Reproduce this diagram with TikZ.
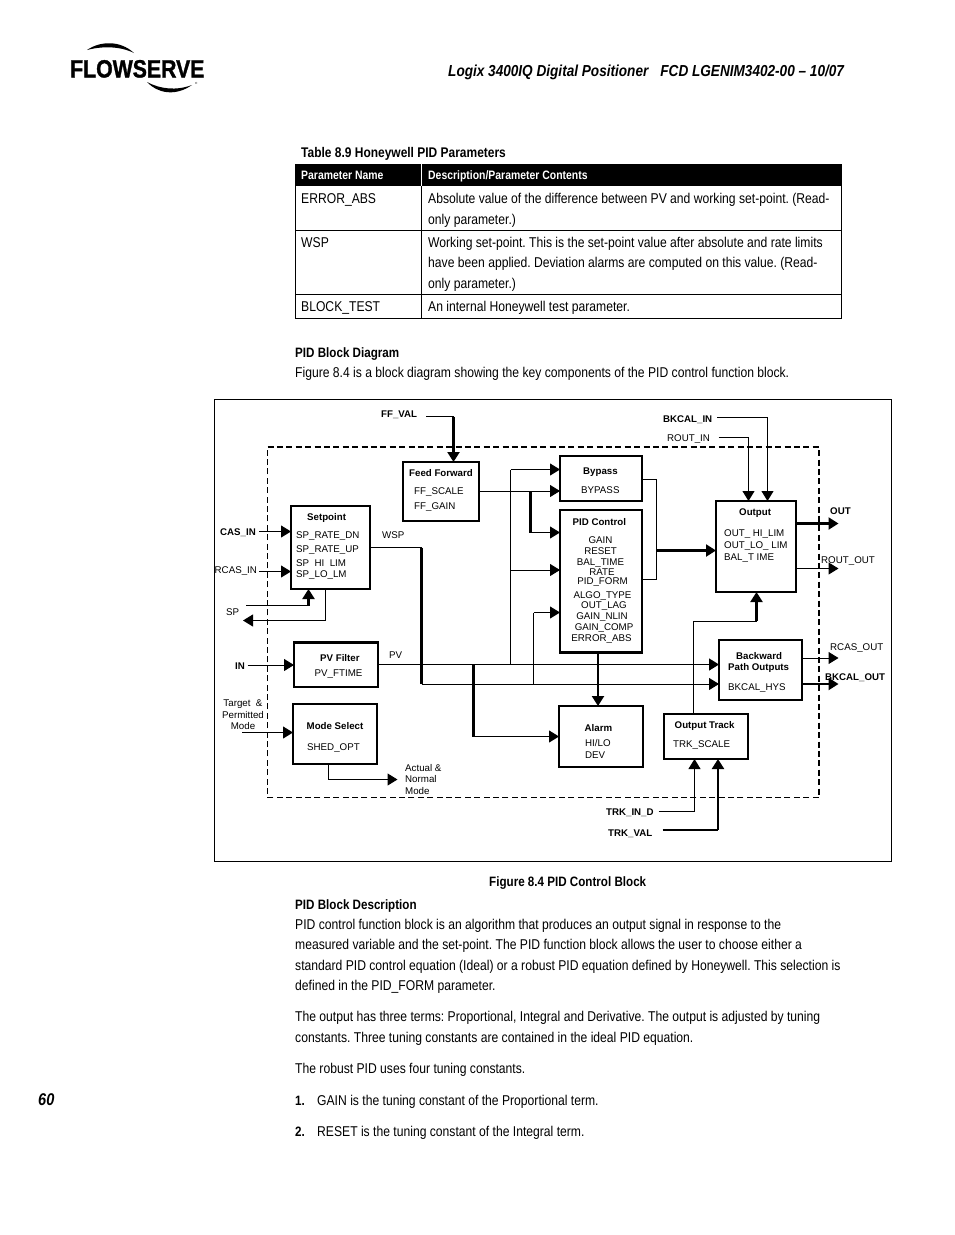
\documentclass[tikz,border=0pt]{standalone}
\usepackage{fontspec}
\setmainfont{Liberation Sans}
\newfontfamily\cond[FakeStretch=0.855]{Liberation Sans}
\newfontfamily\logof[FakeStretch=0.85,FakeBold=1.2]{Liberation Sans}
\usetikzlibrary{arrows.meta}
\frenchspacing
\tikzset{
  x=1pt,y=-1pt,
  box/.style={draw,line width=2.2pt,inner sep=0,outer sep=0},
  wire/.style={line width=1pt},
  wirek/.style={line width=2.2pt},
  arr/.style={-{Triangle[length=10pt,width=12pt]},line width=1pt},
  arrk/.style={-{Triangle[length=10pt,width=12pt]},line width=2.2pt},
  lab/.style={anchor=base west,inner sep=0,font=\fontsize{9.75}{10}\selectfont},
  labb/.style={anchor=base west,inner sep=0,font=\fontsize{9.7}{10}\selectfont\bfseries},
  labc/.style={anchor=base,inner sep=0,font=\fontsize{9.75}{10}\selectfont},
  body/.style={anchor=base west,inner sep=0,font=\cond\fontsize{14.2}{15}\selectfont},
  bodyb/.style={anchor=base west,inner sep=0,font=\cond\fontsize{13.6}{15}\selectfont\bfseries},
  head/.style={anchor=base west,inner sep=0,text=white,font=\cond\fontsize{12.2}{15}\selectfont\bfseries},
}
\newcommand\bx[5]{%
  \pgfmathsetmacro\bxw{#4-#2}\pgfmathsetmacro\bxh{#5-#3}%
  \pgfmathsetmacro\bxx{(#4+#2)/2}\pgfmathsetmacro\bxy{(#5+#3)/2}%
  \node[box,minimum width=\bxw pt,minimum height=\bxh pt] (#1) at (\bxx,\bxy) {};}
\begin{document}
\begin{tikzpicture}
\useasboundingbox (0,0) rectangle (954,1235);
\fill[white] (0,0) rectangle (954,1235);
% logo
\node[anchor=base west,inner sep=0,font=\logof\fontsize{25}{25}\selectfont\bfseries] (logo) at (70,77.5) {FLOWSERVE};
\fill (87,50) .. controls (100,41) and (120,40) .. (134,53) .. controls (120,46) and (102,46) .. (87,50) -- cycle;
\fill (147,82) .. controls (157,93) and (175,97) .. (192,85) .. controls (176,91) and (160,89) .. (147,82) -- cycle;
\node[anchor=base west,inner sep=0,font=\fontsize{3}{3}\selectfont] (reg) at (195,84) {®};
% header
\node[anchor=base west,inner sep=0,font=\cond\fontsize{15.9}{16}\selectfont\bfseries\itshape] (title) at (448,76) {Logix 3400IQ Digital Positioner\hspace{12pt}FCD LGENIM3402-00 – 10/07};
% table
\node[bodyb,font=\cond\fontsize{14}{15}\selectfont\bfseries] (tcap) at (301,157) {Table 8.9 Honeywell PID Parameters};
\fill (295,164) rectangle (842,186);
\draw[line width=0.8pt] (295.5,186) -- (295.5,318.5) -- (841.5,318.5) -- (841.5,186);
\draw[line width=0.8pt] (421.5,186) -- (421.5,318.5);
\draw[line width=0.8pt] (295.5,230) -- (841.5,230) (295.5,294.5) -- (841.5,294.5);
\draw[white,line width=0.8pt] (421.5,164) -- (421.5,186);
\node[head] (h1) at (301,179) {Parameter Name};
\node[head] (h2) at (428,179) {Description/Parameter Contents};
\node[body] (r1a) at (301,203) {ERROR\_ABS};
\node[body] (r1b) at (428,203) {Absolute value of the difference between PV and working set-point. (Read-};
\node[body] (r1c) at (428,224) {only parameter.)};
\node[body] (r2a) at (301,247) {WSP};
\node[body] (r2b) at (428,247) {Working set-point. This is the set-point value after absolute and rate limits};
\node[body] (r2c) at (428,267) {have been applied. Deviation alarms are computed on this value. (Read-};
\node[body] (r2d) at (428,288) {only parameter.)};
\node[body] (r3a) at (301,311) {BLOCK\_TEST};
\node[body] (r3b) at (428,311) {An internal Honeywell test parameter.};
% paragraphs
\node[bodyb] (p0) at (295,357) {PID Block Diagram};
\node[body] (p1) at (295,377) {Figure 8.4 is a block diagram showing the key components of the PID control function block.};
\node[bodyb] (fc) at (489,886) {Figure 8.4 PID Control Block};
\node[bodyb] (p2) at (295,909) {PID Block Description};
\node[body] (p3) at (295,929) {PID control function block is an algorithm that produces an output signal in response to the};
\node[body] (p4) at (295,949) {measured variable and the set-point. The PID function block allows the user to choose either a};
\node[body] (p5) at (295,970) {standard PID control equation (Ideal) or a robust PID equation defined by Honeywell. This selection is};
\node[body] (p6) at (295,990) {defined in the PID\_FORM parameter.};
\node[body] (p7) at (295,1021) {The output has three terms: Proportional, Integral and Derivative. The output is adjusted by tuning};
\node[body] (p8) at (295,1042) {constants. Three tuning constants are contained in the ideal PID equation.};
\node[body] (p9) at (295,1073) {The robust PID uses four tuning constants.};
\node[bodyb] (n1) at (295,1105) {1.};
\node[body] (n1t) at (317,1105) {GAIN is the tuning constant of the Proportional term.};
\node[bodyb] (n2) at (295,1136) {2.};
\node[body] (n2t) at (317,1136) {RESET is the tuning constant of the Integral term.};
\node[anchor=base west,inner sep=0,font=\cond\fontsize{17}{17}\selectfont\bfseries\itshape] (pg) at (38,1105) {60};
% frames
\draw[line width=1pt] (214.5,399.5) rectangle (891.5,861.5);
\draw[line width=1.5pt,dash pattern=on 6pt off 3.4pt] (267.5,447) -- (819,447) -- (819,797.5) -- (267.5,797.5) -- cycle;
% boxes
\bx{ff}{403}{462}{479}{521}
\bx{sp}{291}{506}{370}{589}
\bx{pvf}{294}{642.5}{378}{687}
\bx{mode}{293}{704}{377}{764}
\bx{byp}{560}{456}{642}{501}
\bx{pid}{560}{510}{642}{652.5}
\bx{outb}{716}{501}{796}{592}
\bx{back}{719}{640}{802}{700}
\bx{alarm}{559}{706}{643}{767}
\bx{trk}{664}{714}{748}{759}
% free ends and junctions
\coordinate (cffval) at (426,416.5);
\coordinate (cffb) at (453.5,416.5);
\coordinate (ccas) at (259,531.5);
\coordinate (crcas) at (259,571.5);
\coordinate (cspi) at (246,605.5);
\coordinate (cspb) at (308.5,605.5);
\coordinate (cspo) at (325,620.5);
\coordinate (cspe) at (243,620.5);
\coordinate (cwsp) at (370,547.5);
\coordinate (cwspb) at (421.5,547.5);
\coordinate (cwspc) at (421.5,684);
\coordinate (cpv) at (473.5,664.5);
\coordinate (cpvb) at (473.5,736.5);
\coordinate (cj1) at (510.5,664.5);
\coordinate (cj1t) at (510.5,469.5);
\coordinate (cj1m) at (510.5,570);
\coordinate (cffo) at (530.5,491);
\coordinate (cffd) at (530.5,532.5);
\coordinate (cw1) at (533.5,684);
\coordinate (cw1t) at (533.5,612.5);
\coordinate (cbo) at (656.5,479.5);
\coordinate (cpo) at (656.5,579);
\coordinate (cmerge) at (656.5,550.5);
\coordinate (crin) at (718.5,437.5);
\coordinate (crinb) at (748.5,437.5);
\coordinate (cbin) at (717,417);
\coordinate (cbinb) at (767.5,417);
\coordinate (coute) at (838.5,523.5);
\coordinate (crout) at (838.5,568.5);
\coordinate (crcaso) at (838.5,658);
\coordinate (cbko) at (838.5,684);
\coordinate (ct1) at (693.5,621);
\coordinate (ct2) at (756.5,621);
\coordinate (cpa) at (598,652.5);
\coordinate (ctid) at (658.5,811.5);
\coordinate (ctidb) at (694.5,811.5);
\coordinate (ctv) at (662.5,830);
\coordinate (ctvb) at (718,830);
\coordinate (cmo) at (328.5,779.5);
\coordinate (cmoe) at (397.5,779.5);
\coordinate (ctgt) at (242,732.5);
\coordinate (cin) at (247.5,665);
% connectors
\draw[wire] (cffval) -- (cffb);
\draw[arrk] (cffb) -- (cffb |- ff.north);
\draw[arr] (ccas) -- (ccas -| sp.west);
\draw[arr] (crcas) -- (crcas -| sp.west);
\draw[line width=1.3pt] (cspi) -- (cspb);
\draw[arrk] (cspb) -- (cspb |- sp.south);
\draw[arr] (cspo |- sp.south) -- (cspo) -- (cspe);
\draw[wire] (cwsp) -- (cwspb);
\draw[wirek] (cwspb) -- (cwspc);
\draw[arr] (cwspc) -- (cwspc -| back.west);
\draw[arr,line width=1.4pt] (cj1 -| pvf.east) -- (cj1 -| back.west);
\draw[wirek] (cpv) -- (cpvb);
\draw[arr] (cpvb) -- (cpvb -| alarm.west);
\draw[wire] (cj1) -- (cj1t);
\draw[arr] (cj1t) -- (cj1t -| byp.west);
\draw[arr] (cj1m) -- (cj1m -| pid.west);
\draw[arr] (cffo -| ff.east) -- (cffo -| byp.west);
\draw[wirek] (cffo) -- (cffd);
\draw[arr] (cffd) -- (cffd -| pid.west);
\draw[wire] (cw1) -- (cw1t);
\draw[arr] (cw1t) -- (cw1t -| pid.west);
\draw[wire] (cbo -| byp.east) -- (cbo) -- (cpo) -- (cpo -| pid.east);
\draw[arrk] (cmerge) -- (cmerge -| outb.west);
\draw[wire] (crin) -- (crinb);
\draw[arr] (crinb) -- (crinb |- outb.north);
\draw[wire] (cbin) -- (cbinb);
\draw[arr] (cbinb) -- (cbinb |- outb.north);
\draw[arrk] (coute -| outb.east) -- (coute);
\draw[arr] (crout -| outb.east) -- (crout);
\draw[arr] (crcaso -| back.east) -- (crcaso);
\draw[arrk] (cbko -| back.east) -- (cbko);
\draw[wire] (ct1 |- trk.north) -- (ct1) -- (ct2);
\draw[arrk] (ct2) -- (ct2 |- outb.south);
\draw[arrk] (cpa) -- (cpa |- alarm.north);
\draw[wire] (ctid) -- (ctidb);
\draw[arr] (ctidb) -- (ctidb |- trk.south);
\draw[wirek] (ctv) -- (ctvb);
\draw[arrk] (ctvb) -- (ctvb |- trk.south);
\draw[arr] (cmo |- mode.south) -- (cmo) -- (cmoe);
\draw[arr] (ctgt) -- (ctgt -| mode.west);
\draw[arr] (cin) -- (cin -| pvf.west);
% labels outside
\node[labb] (l1) at (381,417.5) {FF\_VAL};
\node[labb] (l2) at (663,422) {BKCAL\_IN};
\node[lab] (l3) at (667,441) {ROUT\_IN};
\node[labb] (l4) at (220,535) {CAS\_IN};
\node[lab] (l5) at (214.5,573) {RCAS\_IN};
\node[lab] (l6) at (226,615) {SP};
\node[labb] (l7) at (235,669) {IN};
\node[labc] (l8) at (243,706) {Target\ \ \&};
\node[labc] (l9) at (243,718) {Permitted};
\node[labc] (l10) at (243,729) {Mode};
\node[lab] (l11) at (405,771) {Actual \&};
\node[lab] (l12) at (405,782) {Normal};
\node[lab] (l13) at (405,794) {Mode};
\node[lab] (l14) at (382,538) {WSP};
\node[lab] (l15) at (389,658) {PV};
\node[labb] (l16) at (830,514) {OUT};
\node[lab] (l17) at (821,563) {ROUT\_OUT};
\node[lab] (l18) at (830,650) {RCAS\_OUT};
\node[labb] (l19) at (825,680) {BKCAL\_OUT};
\node[labb] (l20) at (606,815) {TRK\_IN\_D};
\node[labb] (l21) at (608,836) {TRK\_VAL};
% labels in boxes
\node[labb] (a1) at (409,476) {Feed Forward};
\node[lab] (a2) at (414,494) {FF\_SCALE};
\node[lab] (a3) at (414,509) {FF\_GAIN};
\node[labb] (b1) at (307,520) {Setpoint};
\node[lab] (b2) at (296,538) {SP\_RATE\_DN};
\node[lab] (b3) at (296,552) {SP\_RATE\_UP};
\node[lab] (b4) at (296,566) {SP\ \ HI\ \ LIM};
\node[lab] (b5) at (296,577) {SP\_LO\_LM};
\node[labb] (c1) at (320,661) {PV Filter};
\node[lab] (c2) at (314.5,676) {PV\_FTIME};
\node[labb] (d1) at (306.5,729) {Mode Select};
\node[lab] (d2) at (307,750) {SHED\_OPT};
\node[labb] (e1) at (583,474) {Bypass};
\node[lab] (e2) at (581,493) {BYPASS};
\node[labb] (f1) at (572.5,525) {PID Control};
\node[labc] (f2) at (600.5,543) {GAIN};
\node[labc] (f3) at (600.5,554) {RESET};
\node[labc] (f4) at (600.5,565) {BAL\_TIME};
\node[labc] (f5) at (602,575) {RATE};
\node[labc] (f6) at (602.5,584) {PID\_FORM};
\node[labc] (f7) at (602.5,598) {ALGO\_TYPE};
\node[labc] (f8) at (604,608) {OUT\_LAG};
\node[labc] (f9) at (602,619) {GAIN\_NLIN};
\node[labc] (f10) at (604,630) {GAIN\_COMP};
\node[labc] (f11) at (601.5,641) {ERROR\_ABS};
\node[labb] (g1) at (739,515) {Output};
\node[lab] (g2) at (724,536) {OUT\_\ HI\_LIM};
\node[lab] (g3) at (724,548) {OUT\_LO\_\ LIM};
\node[lab] (g4) at (724,560) {BAL\_T IME};
\node[labb] (h1b) at (736,659) {Backward};
\node[labb] (h2b) at (728,670) {Path Outputs};
\node[lab] (h3b) at (728,690) {BKCAL\_HYS};
\node[labb] (i1) at (584.5,731) {Alarm};
\node[lab] (i2) at (585,746) {HI/LO};
\node[lab] (i3) at (585,758) {DEV};
\node[labb] (j1) at (674.5,728) {Output Track};
\node[lab] (j2) at (673,747) {TRK\_SCALE};
\end{tikzpicture}
\end{document}
